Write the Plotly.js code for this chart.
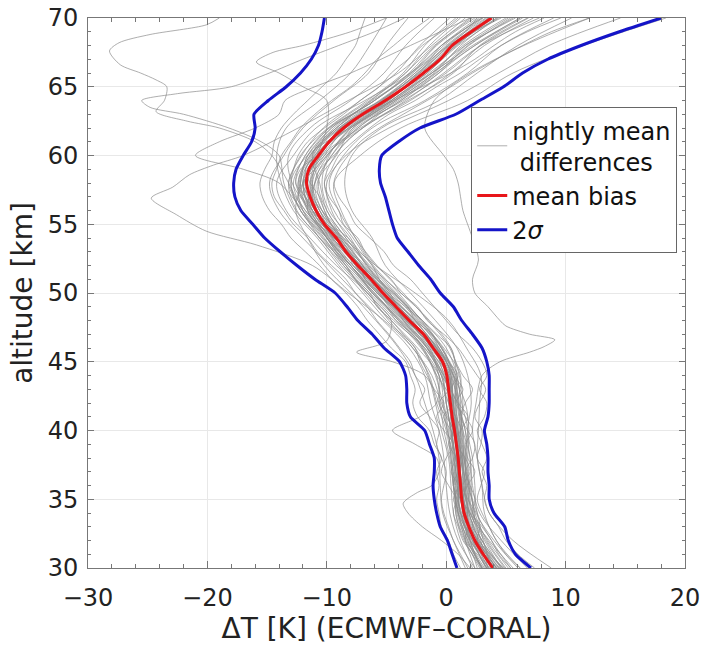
<!DOCTYPE html>
<html><head><meta charset="utf-8">
<script src="https://cdn.plot.ly/plotly-3.0.1.min.js"></script>
<style>html,body{margin:0;padding:0;background:#fff}</style>
</head><body>
<div id="chart" style="width:705px;height:648px"></div>
<script>
// altitude grids (km)
const altFine = [30,31,32,33,34,35,36,37,38,39,40,41,42,43,44,45,46,47,48,49,50,51,52,53,54,55,56,57,58,59,60,61,62,63,64,65,66,67,68,69,70];
const altCoarse = [30,32,34,36,38,40,42,44,46,48,50,52,54,56,58,60,62,64,66,68,70];

// mean bias (K)
const meanBias = [3.9,3.1,2.4,1.9,1.5,1.3,1.2,1.1,1.0,0.85,0.7,0.5,0.35,0.2,0.05,-0.3,-1.1,-1.9,-3.1,-4.2,-5.3,-6.3,-7.4,-8.4,-9.2,-10.2,-10.9,-11.4,-11.7,-11.5,-10.7,-9.8,-8.6,-7.0,-5.1,-3.4,-1.9,-0.5,0.5,2.1,3.8];
// mean - 2 sigma
const sigmaLow = [0.9,0.5,0.1,-0.5,-0.8,-1.0,-1.1,-1.0,-1.0,-1.4,-1.8,-3.0,-3.3,-3.3,-3.4,-3.9,-5.2,-6.2,-7.4,-8.3,-9.3,-11.0,-12.5,-13.9,-15.2,-16.2,-17.2,-17.7,-17.8,-17.6,-17.0,-16.3,-16.0,-16.1,-14.9,-13.4,-12.2,-11.3,-10.7,-10.4,-10.2];
// mean + 2 sigma
const sigmaHigh = [7.1,5.8,5.2,4.9,4.0,3.6,3.6,3.5,3.5,3.4,3.2,3.5,3.6,3.6,3.6,3.4,3.0,2.2,1.3,0.6,-0.5,-1.3,-2.3,-3.2,-4.1,-4.5,-4.8,-5.1,-5.5,-5.6,-5.4,-4.0,-2.2,0.8,2.8,4.8,6.4,8.5,11.3,14.5,18.0];

// nightly mean differences on the coarse grid
const night01 = [4.6,3.0,2.1,1.8,1.5,1.3,1.2,0.9,0.0,-2.0,-4.2,-6.2,-7.8,-9.4,-10.2,-9.3,-7.0,-3.0,0.4,3.2,7.3];
const night02 = [3.1,1.7,0.9,0.6,0.5,0.1,-0.5,-0.8,-2.1,-4.2,-6.4,-8.6,-10.6,-12.5,-13.2,-12.1,-10.3,-7.2,-4.2,-2.2,0.3];
const night03 = [5.4,3.8,2.6,2.4,2.2,1.8,2.1,1.8,0.9,-0.9,-3.0,-5.1,-6.2,-7.9,-8.5,-7.9,-5.4,-0.6,2.6,6.0,10.5];
const night04 = [2.4,1.0,0.3,0.0,-0.2,-0.6,-1.3,-1.8,-3.1,-5.3,-7.6,-9.8,-12.0,-14.0,-14.8,-13.6,-12.0,-9.4,-6.5,-5.0,-3.2];
const night05 = [3.7,2.6,1.4,1.3,0.9,0.8,0.2,0.3,-1.3,-2.8,-5.6,-7.2,-9.5,-10.6,-12.0,-10.5,-8.9,-4.8,-2.2,0.9,3.5];
const night06 = [4.2,2.8,1.9,1.5,1.3,0.9,0.6,0.4,-0.6,-3.4,-5.0,-7.8,-9.8,-11.6,-11.0,-9.6,-7.4,-3.8,-0.6,1.8,5.8];
const night07 = [3.4,2.1,1.1,1.0,0.6,0.4,0.0,-0.4,-1.6,-3.6,-4.7,-6.6,-8.4,-10.0,-10.6,-11.2,-9.6,-6.0,-3.1,-0.9,2.0];
const night08 = [6.2,4.2,3.2,3.0,2.6,2.7,2.8,2.9,1.7,0.2,-2.6,-5.9,-8.6,-11.2,-12.6,-11.8,-9.8,-5.5,-2.6,0.2,4.6];
const night09 = [1.6,0.6,-0.3,-0.5,-0.6,-1.1,-1.8,-2.6,-4.0,-5.9,-8.0,-10.2,-11.6,-12.6,-12.0,-10.4,-7.2,-3.2,0.6,2.8,6.8];
const night10 = [4.9,3.3,2.2,1.9,1.7,1.6,0.9,-0.2,-1.8,-3.9,-6.1,-8.2,-10.3,-12.0,-12.4,-11.4,-9.2,-6.3,-3.4,-1.4,1.2];
const night11 = [3.0,2.0,1.8,1.6,1.4,1.2,1.4,1.1,0.3,-1.5,-3.6,-5.8,-7.6,-9.0,-9.8,-8.6,-6.2,-1.8,1.8,4.6,9.0];
const night12 = [4.4,2.2,1.2,0.8,0.4,0.2,-0.2,-0.6,-2.4,-4.6,-6.8,-8.4,-10.0,-11.4,-12.9,-13.2,-11.4,-8.0,-5.2,-3.4,-1.0];
const night13 = [5.0,3.4,2.4,2.0,1.8,1.9,1.6,0.6,-0.4,-2.5,-5.0,-7.0,-8.9,-10.2,-10.8,-9.2,-7.8,-4.2,-0.9,2.4,6.4];
const night14 = [2.8,1.6,0.8,1.0,1.2,0.6,-0.4,-1.2,-2.8,-4.8,-6.6,-9.2,-11.4,-13.4,-14.2,-12.8,-10.9,-6.8,-3.0,-0.4,3.0];
const night15 = [3.5,2.9,2.3,2.1,2.0,1.4,1.0,1.2,-0.2,-2.2,-4.4,-6.8,-8.8,-10.4,-11.2,-10.0,-7.4,-4.2,-1.0,1.2,4.2];
const night16 = [4.1,2.4,1.6,1.4,0.8,0.5,0.4,-0.2,-1.0,-3.0,-5.8,-7.6,-9.1,-11.0,-11.6,-11.1,-9.2,-5.6,-2.6,-0.2,2.8];
const night17 = [3.2,1.9,1.3,0.6,0.9,1.1,0.7,0.8,-0.8,-2.6,-4.8,-6.9,-9.4,-11.8,-13.0,-11.6,-8.1,-4.4,-1.4,1.6,5.2];
const night18 = [4.8,2.7,1.4,1.6,1.3,0.9,0.8,0.6,-0.9,-3.3,-5.5,-7.0,-8.6,-10.6,-11.2,-10.6,-8.8,-5.2,-1.6,0.8,4.0];
const night19 = [3.8,3.1,2.6,1.8,1.5,1.3,0.2,-0.6,-1.4,-3.8,-6.0,-8.0,-9.8,-11.2,-12.2,-11.0,-8.4,-4.8,-2.0,0.4,3.4];
const night20 = [4.5,2.5,1.0,1.1,0.8,0.3,0.5,0.4,-0.6,-2.4,-4.6,-7.1,-9.6,-11.4,-11.9,-10.2,-7.0,-3.4,-0.2,2.9,7.8];
const night21 = [5.6,3.6,2.0,1.9,1.6,1.8,1.3,0.9,0.4,-1.4,-3.8,-6.4,-8.2,-9.6,-10.0,-8.4,-4.8,0.2,4.4,8.6,14.6];
const night22 = [2.2,1.2,0.6,0.4,0.2,-0.4,-0.9,-1.5,-2.6,-5.0,-7.0,-9.0,-10.8,-12.8,-13.8,-14.2,-13.4,-10.6,-8.0,-6.4,-5.0];
const night23 = [3.6,2.3,1.7,1.3,1.1,0.7,0.3,0.1,-1.2,-3.2,-5.2,-7.5,-9.3,-11.0,-11.6,-10.7,-8.7,-5.1,-2.0,0.6,3.8];
const night24 = [4.3,2.0,1.5,0.9,1.0,0.8,0.6,0.3,-1.0,-2.9,-5.0,-7.2,-8.9,-10.6,-11.3,-10.4,-8.2,-4.6,-1.6,1.0,4.4];
const night25 = [6.8,4.6,2.8,2.2,2.0,1.6,1.0,0.8,-0.4,-2.1,-4.0,-6.1,-7.6,-8.8,-9.4,-7.2,-3.8,1.8,5.6,11.5,18.4];
const night26 = [4.0,2.7,1.8,1.5,1.2,1.0,0.8,0.5,-0.7,-2.7,-4.9,-7.0,-8.7,-10.4,-11.0,-9.9,-7.8,-4.0,-0.8,1.9,5.4];
const night27 = [3.3,2.2,1.2,0.9,0.7,0.4,0.0,-0.3,-1.5,-3.5,-5.7,-7.8,-9.7,-11.5,-12.3,-11.3,-9.4,-6.0,-2.9,-0.8,2.4];
const night28 = [5.2,3.5,2.2,1.7,1.6,1.4,1.1,0.6,-0.3,-2.3,-4.3,-6.5,-8.4,-10.0,-10.7,-9.6,-7.6,-3.6,0.0,2.9,6.9];
const night29 = [2.9,1.8,1.0,0.7,0.6,0.1,-0.3,-0.9,-1.9,-4.0,-6.2,-8.0,-10.0,-12.2,-13.0,-12.2,-9.9,-6.6,-3.6,-1.8,0.8];
const night30 = [4.7,3.0,1.9,1.7,1.2,1.2,0.9,0.7,-0.4,-2.0,-4.5,-6.7,-8.0,-9.8,-10.4,-9.8,-8.0,-4.4,-1.2,1.4,5.0];
const night31 = [3.8,2.6,1.6,1.2,1.1,0.6,0.2,-0.1,-1.4,-3.2,-5.4,-7.6,-9.5,-11.2,-12.0,-10.9,-8.7,-5.3,-2.4,0.0,3.1];
const night32 = [6.0,4.0,2.5,1.9,1.5,1.2,1.0,0.4,-0.8,-2.6,-5.0,-7.2,-9.2,-11.0,-11.8,-10.8,-8.2,-4.6,-1.2,2.2,6.2];
const night33 = [3.0,1.5,0.8,0.8,0.7,0.5,0.6,0.2,-1.1,-3.4,-5.8,-8.0,-9.9,-11.6,-12.4,-11.4,-9.0,-5.4,-2.2,0.3,3.6];
const night34 = [4.6,3.2,2.0,1.4,1.4,1.0,0.5,0.1,-1.2,-3.3,-5.6,-7.6,-9.0,-10.8,-11.4,-10.2,-8.4,-4.9,-1.8,0.7,4.3];
const night35 = [3.5,2.4,1.5,1.0,0.9,0.9,0.3,0.0,-0.8,-2.9,-5.1,-7.3,-9.3,-11.3,-12.0,-11.2,-9.0,-5.5,-2.3,0.1,3.3];

// wigglier nights on the fine (1 km) grid
const wig01 = [6.2,5.0,4.2,3.6,3.0,2.6,2.9,3.2,2.6,2.9,3.0,2.4,2.8,3.3,2.6,1.8,1.0,-0.2,-1.6,-2.4,-3.8,-4.6,-5.9,-6.8,-7.4,-8.6,-9.0,-9.8,-10.2,-9.6,-9.0,-7.8,-6.4,-4.8,-2.6,-0.8,1.2,2.8,4.6,6.8,9.6];
const wig02 = [1.8,1.2,0.6,0.2,-0.2,-0.4,-0.2,0.0,-0.4,-0.8,-0.6,-1.4,-2.2,-1.8,-2.6,-3.0,-3.9,-4.8,-5.8,-6.6,-7.6,-8.4,-9.6,-10.8,-11.6,-12.8,-13.6,-14.4,-14.6,-14.2,-13.8,-13.0,-12.2,-11.0,-9.6,-8.0,-6.8,-5.8,-4.4,-3.0,-1.4];
const wig03 = [4.8,3.6,3.0,2.2,2.4,1.8,1.4,2.0,1.6,0.8,1.2,1.8,1.0,0.4,1.0,0.2,-0.6,-1.2,-2.6,-3.2,-4.4,-5.8,-6.6,-7.6,-8.8,-9.4,-10.4,-11.2,-11.0,-10.6,-9.4,-8.4,-7.0,-5.6,-3.8,-2.2,-0.6,0.8,2.4,4.2,6.2];
const wig04 = [2.6,2.2,1.4,1.0,0.6,0.8,0.2,-0.4,0.0,0.6,-0.2,-0.8,-0.2,-1.0,-1.6,-2.2,-2.6,-3.6,-4.6,-5.8,-6.4,-7.6,-8.4,-9.4,-10.6,-11.4,-12.2,-12.8,-13.2,-12.8,-12.4,-11.6,-10.2,-8.6,-7.2,-5.6,-4.6,-3.2,-2.0,-0.4,1.0];
const wig05 = [5.4,4.4,3.8,3.0,2.2,2.4,2.0,1.6,2.2,2.4,1.8,1.2,1.6,2.2,1.4,0.8,0.4,-0.8,-2.0,-3.4,-4.8,-5.6,-6.2,-7.2,-8.2,-9.6,-10.2,-10.6,-11.4,-11.8,-11.0,-10.2,-8.8,-6.8,-4.4,-2.0,0.4,2.4,4.0,5.8,8.2];
const wig06 = [3.0,2.4,2.0,1.4,1.8,1.2,0.6,1.0,1.4,1.0,0.4,-0.2,0.6,0.0,-0.8,-1.4,-2.0,-2.8,-4.2,-5.0,-6.2,-7.0,-8.0,-9.2,-10.0,-10.8,-11.8,-12.4,-12.2,-12.0,-11.6,-10.6,-9.2,-7.8,-6.2,-4.4,-3.0,-1.4,-0.4,1.2,3.0];
const wig07 = [4.2,3.4,2.6,2.8,2.0,1.4,1.8,2.4,1.8,1.6,2.2,1.6,0.8,1.4,0.6,0.0,-0.8,-2.2,-3.2,-4.4,-5.4,-6.6,-7.8,-8.2,-9.4,-10.4,-11.0,-11.8,-12.6,-12.2,-10.8,-9.6,-8.0,-6.2,-4.6,-3.0,-1.2,0.4,1.6,3.6,5.6];
const wig08 = [3.4,2.6,1.6,1.8,1.2,0.6,1.0,0.4,0.8,0.2,0.6,0.0,-0.6,0.2,-0.4,-1.0,-1.6,-2.4,-3.6,-4.8,-5.6,-6.8,-7.2,-8.6,-9.6,-10.2,-11.2,-11.6,-12.0,-11.0,-10.0,-9.0,-8.0,-6.4,-5.4,-3.8,-2.4,-1.0,0.2,1.6,2.6];
const wig09 = [7.4,6.0,5.0,4.4,3.6,3.2,3.4,3.0,3.4,3.0,2.6,3.2,3.4,2.8,3.4,3.0,2.2,1.0,0.0,-1.0,-2.0,-3.0,-4.4,-5.2,-6.4,-7.6,-8.2,-9.0,-9.4,-9.0,-8.2,-7.2,-5.6,-3.6,-1.6,0.4,2.2,4.2,6.4,8.8,12.0];
const wig10 = [1.2,0.6,0.2,-0.4,-0.6,-0.8,-0.6,-0.8,-0.4,-1.0,-1.4,-2.4,-2.8,-2.6,-3.0,-3.4,-4.6,-5.6,-6.6,-7.4,-8.4,-9.6,-10.6,-11.8,-13.0,-13.8,-14.8,-15.4,-15.6,-15.2,-14.6,-14.4,-13.8,-12.8,-11.6,-10.4,-9.2,-8.4,-7.6,-7.2,-6.8];

// nights with outlying excursions (own altitude sampling)
const outA_alt = [30,32,34,36,38,40,42,44,46,48,50,52,54,56,58,60,61,62,62.5,63.2,64,65,65.5,66,66.6,67.6,68.2,68.8,69.5,70];
const outA_dT  = [4.4,2.8,1.9,1.6,1.3,1.0,0.6,0.2,-1.6,-3.8,-6.2,-8.4,-10.4,-12.2,-13.2,-14.6,-16.0,-19.0,-21.7,-24.3,-23.6,-23.4,-24.3,-25.6,-27.3,-28.2,-27.4,-24.8,-20.1,-19.0];
const outB_alt = [30,32,34,36,38,40,42,44,46,48,50,52,54,56,58,60,61,62,63,63.5,64,64.5,65,66,67,68,69,70];
const outB_dT  = [3.6,2.0,1.2,1.0,0.8,0.4,0.0,-0.4,-1.8,-4.4,-6.6,-8.8,-10.6,-12.6,-13.6,-14.0,-15.5,-18.2,-22.0,-24.8,-25.5,-22.5,-18.0,-14.8,-12.0,-9.0,-6.0,-3.5];
const outC_alt = [30,32,34,36,38,40,42,44,46,48,50,52,53.5,54.5,55.7,56.9,57.7,58.6,59.3,60,62,64,66,68,70];
const outC_dT  = [2.4,1.6,1.0,0.6,0.4,0.0,-0.8,-1.4,-2.8,-5.2,-8.2,-11.2,-15.9,-20.1,-22.6,-24.7,-22.9,-21.5,-19.5,-17.0,-12.4,-8.2,-4.0,-1.2,1.6];
const outD_alt = [30,32,34,36,38,40,42,44,45,45.7,46.1,46.6,47,47.6,48,49,50,51,52.4,54,56,57,58,59,60,62,64,66,68,70];
const outD_dT  = [8.8,5.6,3.6,3.0,2.6,2.2,2.5,3.0,4.5,7.0,8.2,9.1,7.0,5.0,4.5,3.5,2.4,2.2,2.7,2.2,1.4,1.2,1.0,0.6,-0.2,-1.8,-1.0,2.0,6.5,12.0];
const outE_alt = [30,32,34,36,38,40,42,44,45,45.7,46.5,48,50,52,54,56,58,60,62,64,66,68,70];
const outE_dT  = [3.0,1.8,1.0,0.6,0.3,-0.2,-0.6,-1.8,-4.5,-7.5,-5.0,-4.6,-6.6,-8.6,-10.2,-12.0,-12.8,-11.8,-9.8,-6.4,-3.4,-1.0,2.2];
const outF_alt = [30,31,32,33,34,34.7,35.5,36,37,38,39,40,41,42,44,46,48,50,52,54,56,58,60,62,64,66,68,70];
const outF_dT  = [2.0,1.0,-0.4,-2.0,-3.2,-3.6,-2.4,-1.2,-0.6,-0.8,-2.6,-4.5,-2.2,-0.8,-0.6,-2.0,-4.0,-6.0,-8.2,-10.0,-11.6,-12.2,-11.6,-9.6,-6.0,-2.8,-0.4,2.6];
const outG_alt = [30,32,34,36,38,40,42,44,46,48,50,52,54,56,58,59,60,61,62,63,64,65,66,68,70];
const outG_dT  = [3.4,2.2,1.4,1.1,0.9,0.6,0.4,-0.2,-1.6,-3.6,-5.8,-8.0,-10.0,-12.0,-14.0,-17.0,-21.0,-19.0,-16.0,-14.0,-13.5,-11.0,-8.0,-3.0,2.0];
const outH_alt = [30,32,34,36,38,40,42,44,46,48,50,52,54,56,58,60,62,64,65,66,66.8,67.5,68,69,70];
const outH_dT  = [4.2,2.6,1.7,1.3,1.1,0.8,0.5,0.2,-0.9,-2.9,-5.0,-7.2,-9.0,-10.8,-11.4,-10.8,-10.0,-10.0,-12.0,-14.0,-15.9,-14.5,-12.0,-8.0,-5.0];

const nights = [night01,night02,night03,night04,night05,night06,night07,night08,night09,night10,
  night11,night12,night13,night14,night15,night16,night17,night18,night19,night20,
  night21,night22,night23,night24,night25,night26,night27,night28,night29,night30,
  night31,night32,night33,night34,night35];
const wiggly = [wig01,wig02,wig03,wig04,wig05,wig06,wig07,wig08,wig09,wig10];
const outliers = [[outA_dT,outA_alt],[outB_dT,outB_alt],[outC_dT,outC_alt],[outD_dT,outD_alt],
  [outE_dT,outE_alt],[outF_dT,outF_alt],[outG_dT,outG_alt],[outH_dT,outH_alt]];

const grayColor = 'rgba(140,140,140,0.7)';
const traces = [];
nights.forEach((n, i) => {
  traces.push({x: n, y: altCoarse, type: 'scatter', mode: 'lines',
    line: {color: grayColor, width: 1, shape: 'spline', smoothing: 1},
    name: 'nightly mean<br>\u00a0differences', legendgroup: 'night',
    showlegend: i === 0, hoverinfo: 'skip'});
});
wiggly.forEach(n => {
  traces.push({x: n, y: altFine, type: 'scatter', mode: 'lines',
    line: {color: grayColor, width: 1, shape: 'spline', smoothing: 0.9},
    legendgroup: 'night', showlegend: false, hoverinfo: 'skip'});
});
outliers.forEach(o => {
  traces.push({x: o[0], y: o[1], type: 'scatter', mode: 'lines',
    line: {color: grayColor, width: 1, shape: 'spline', smoothing: 0.8},
    legendgroup: 'night', showlegend: false, hoverinfo: 'skip'});
});
traces.push({x: sigmaLow, y: altFine, type: 'scatter', mode: 'lines',
  line: {color: '#1414c8', width: 3, shape: 'spline', smoothing: 0.6},
  name: '2<i>σ</i>', legendgroup: 'sig', showlegend: false});
traces.push({x: meanBias, y: altFine, type: 'scatter', mode: 'lines',
  line: {color: '#e8161a', width: 3, shape: 'spline', smoothing: 0.8},
  name: 'mean bias'});
traces.push({x: sigmaHigh, y: altFine, type: 'scatter', mode: 'lines',
  line: {color: '#1414c8', width: 3, shape: 'spline', smoothing: 0.6},
  name: '2<i>σ</i>', legendgroup: 'sig', showlegend: true});

const axisCommon = {
  ticks: 'inside', tickcolor: '#777', showline: true, linecolor: '#777', linewidth: 1,
  mirror: 'ticks', showgrid: true, gridcolor: '#e8e8e8', gridwidth: 1, zeroline: false,
  tickfont: {size: 24, color: '#222'}, automargin: false
};
const layout = {
  width: 705, height: 648,
  margin: {l: 88, r: 20, t: 18, b: 80},
  paper_bgcolor: '#fff', plot_bgcolor: '#fff',
  font: {family: 'DejaVu Sans', color: '#222'},
  showlegend: true,
  legend: {x: 0.987, xanchor: 'right', y: 0.838, yanchor: 'top', bgcolor: '#fff',
    bordercolor: '#666', borderwidth: 1, font: {size: 24, color: '#111'}, tracegroupgap: 0},
  xaxis: Object.assign({}, axisCommon, {
    range: [-30, 20], tick0: 0, dtick: 10, ticklen: 7,
    minor: {dtick: 2, ticks: 'inside', ticklen: 4, tickcolor: '#777', showgrid: false},
    ticklabelstandoff: 8,
    title: {text: 'ΔT [K] (ECMWF–CORAL)', font: {size: 28, color: '#222'}, standoff: 4}
  }),
  yaxis: Object.assign({}, axisCommon, {
    range: [30, 70], tick0: 0, dtick: 5, ticklen: 6,
    minor: {dtick: 1, ticks: 'inside', ticklen: 3, tickcolor: '#777', showgrid: false},
    ticklabelstandoff: 4,
    title: {text: 'altitude [km]', font: {size: 28, color: '#222'}, standoff: 6}
  })
};
Plotly.newPlot('chart', traces, layout, {displayModeBar: false, staticPlot: true});
</script>
</body></html>
